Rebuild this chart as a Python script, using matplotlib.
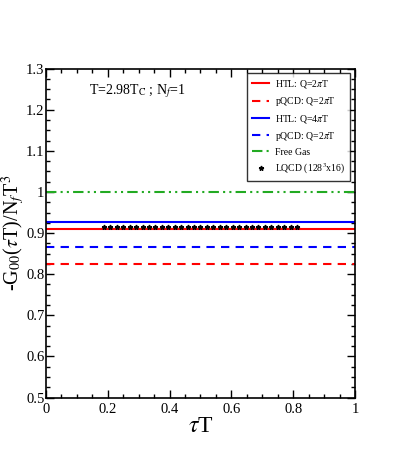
import matplotlib.pyplot as plt

plt.rcParams['font.family'] = ['Liberation Serif', 'DejaVu Serif']
plt.rcParams['mathtext.fontset'] = 'stix'

# constant levels
tau_range = [0.0, 1.0]
htl_2 = 0.910
pqcd_2 = 0.824
htl_4 = 0.926
pqcd_4 = 0.866
free_gas = 1.0

# lattice points
lqcd_tau = [0.1875, 0.2083, 0.2292, 0.25, 0.2708, 0.2917, 0.3125, 0.3333, 0.3542, 0.375,
            0.3958, 0.4167, 0.4375, 0.4583, 0.4792, 0.5, 0.5208, 0.5417, 0.5625, 0.5833,
            0.6042, 0.625, 0.6458, 0.6667, 0.6875, 0.7083, 0.7292, 0.75, 0.7708, 0.7917, 0.8125]
lqcd_val = [0.915] * len(lqcd_tau)

fig = plt.figure(figsize=(3.99, 4.57), dpi=100)
ax = fig.add_axes([0.115, 0.13, 0.775, 0.72])

ax.plot(tau_range, [htl_2] * 2, color='red', lw=1.5, label=r'HTL: Q=2$\pi$T')
ax.plot(tau_range, [pqcd_2] * 2, color='red', lw=1.5, ls=(0, (4, 3)), label=r'pQCD: Q=2$\pi$T')
ax.plot(tau_range, [htl_4] * 2, color='blue', lw=1.5, label=r'HTL: Q=4$\pi$T')
ax.plot(tau_range, [pqcd_4] * 2, color='blue', lw=1.5, ls=(0, (4, 3)), label=r'pQCD: Q=2$\pi$T')
ax.plot(tau_range, [free_gas] * 2, color='#22aa22', lw=1.5, ls=(0, (5, 2, 1, 2, 1, 2)), label='Free Gas')
ax.plot(lqcd_tau, lqcd_val, ls='none', marker='*', ms=3.5, color='black', label=r'LQCD (128$^3$x16)')

ax.set_xlim(0, 1)
ax.set_ylim(0.5, 1.3)
ax.set_xticks([0, 0.2, 0.4, 0.6, 0.8, 1])
ax.set_xticklabels(['0', '0.2', '0.4', '0.6', '0.8', '1'])
ax.set_yticks([0.5, 0.6, 0.7, 0.8, 0.9, 1.0, 1.1, 1.2, 1.3])
ax.set_yticklabels(['0.5', '0.6', '0.7', '0.8', '0.9', '1', '1.1', '1.2', '1.3'])
ax.set_xticks([i * 0.05 for i in range(21)], minor=True)
ax.set_yticks([0.5 + i * 0.025 for i in range(33)], minor=True)
ax.tick_params(which='both', direction='in', top=True, right=True, labelsize=10.5)
ax.tick_params(axis='x', pad=4)
ax.tick_params(axis='y', pad=1)
ax.tick_params(which='major', length=6, width=1)
ax.tick_params(which='minor', length=3, width=1)
for s in ax.spines.values():
    s.set_linewidth(1.2)

ax.set_xlabel(r'$\tau$T', fontsize=17, labelpad=0)
ax.set_ylabel(r'-G$_{00}$($\tau$T)/N$_f$T$^3$', fontsize=14.5, labelpad=-1)

ax.text(0.14, 1.237, r'T=2.98T$_\mathrm{C}$ ; N$_f$=1', fontsize=10)

leg = ax.legend(loc='upper right', fontsize=7, frameon=True, fancybox=False,
                edgecolor='black', handlelength=1.8, handletextpad=0.6,
                borderpad=0.5, labelspacing=0.5)
leg.get_frame().set_linewidth(1.0)

plt.savefig('out.png', dpi=100)
